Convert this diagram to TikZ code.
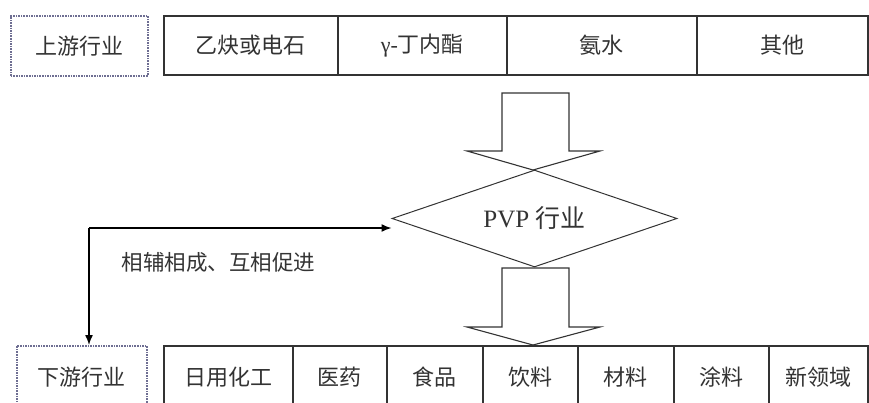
\documentclass[tikz,border=0pt]{standalone}
\usepackage{fontspec}
\setmainfont{Liberation Serif}
\newfontfamily\cjk{Noto Sans CJK SC}
\usetikzlibrary{shapes.geometric,arrows.meta}
\definecolor{ink}{HTML}{333333}
\definecolor{dotc}{HTML}{6E6E92}
\tikzset{
  cell/.style={draw=ink, line width=1.6pt, fill=white, inner sep=0pt, text=ink,
    font=\cjk\fontsize{22}{22}\selectfont, anchor=north west},
  tag/.style={draw=dotc, densely dotted, line width=1.6pt, inner sep=0pt, text=ink,
    font=\cjk\fontsize{22}{22}\selectfont, anchor=north west},
  blockarrow/.style={draw=ink, line width=1.1pt, fill=white, line join=miter},
  link/.style={draw=black, line width=1.4pt, -{Latex[length=10pt,width=8pt]}},
}
\begin{document}
\begin{tikzpicture}[x=1pt,y=-1pt]
\useasboundingbox (0,0) rectangle (869,402);
% upstream
\node[tag, minimum width=137pt, minimum height=60pt] (up) at (10,15) {上游行业};
\node[cell, minimum width=174pt, minimum height=59pt] (u1) at (163,15) {乙炔或电石};
\node[cell, minimum width=169pt, minimum height=59pt] (u2) at (337,15) {{\rmfamily γ-}丁内酯};
\node[cell, minimum width=190pt, minimum height=59pt] (u3) at (506,15) {氨水};
\node[cell, minimum width=171pt, minimum height=59pt] (u4) at (696,15) {其他};
% top block arrow
\draw[blockarrow] (502,93) -- (569,93) -- (569,151) -- (600,151) -- (533,170)
  -- (467,151) -- (502,151) -- cycle;
% diamond
\node[diamond, aspect=3, draw=ink, line width=1pt, fill=white, minimum width=285pt,
  minimum height=97pt, inner sep=0pt, text=ink, font=\fontsize{25}{25}\selectfont]
  (pvp) at (534.5,218.5) {PVP {\cjk 行业}};
% bottom block arrow
\draw[blockarrow] (502,268) -- (569,268) -- (569,327) -- (600,327) -- (533,345)
  -- (467,327) -- (502,327) -- cycle;
% downstream
\node[tag, minimum width=130pt, minimum height=62pt] (down) at (16,345) {下游行业};
\node[cell, minimum width=129pt, minimum height=62pt] (d1) at (163,345) {日用化工};
\node[cell, minimum width=94pt, minimum height=62pt] (d2) at (292,345) {医药};
\node[cell, minimum width=96pt, minimum height=62pt] (d3) at (386,345) {食品};
\node[cell, minimum width=95pt, minimum height=62pt] (d4) at (482,345) {饮料};
\node[cell, minimum width=96pt, minimum height=62pt] (d5) at (577,345) {材料};
\node[cell, minimum width=95pt, minimum height=62pt] (d6) at (673,345) {涂料};
\node[cell, minimum width=99pt, minimum height=62pt] (d7) at (768,345) {新领域};
% link arrows
\coordinate (corner) at (89,228);
\draw[link] (corner) -- (pvp.west |- corner);
\draw[link] (corner) -- (corner |- down.north);
\node[text=ink, font=\cjk\fontsize{21.5}{21.5}\selectfont, anchor=west] (lbl) at (118,262) {相辅相成、互相促进};
\end{tikzpicture}
\end{document}
